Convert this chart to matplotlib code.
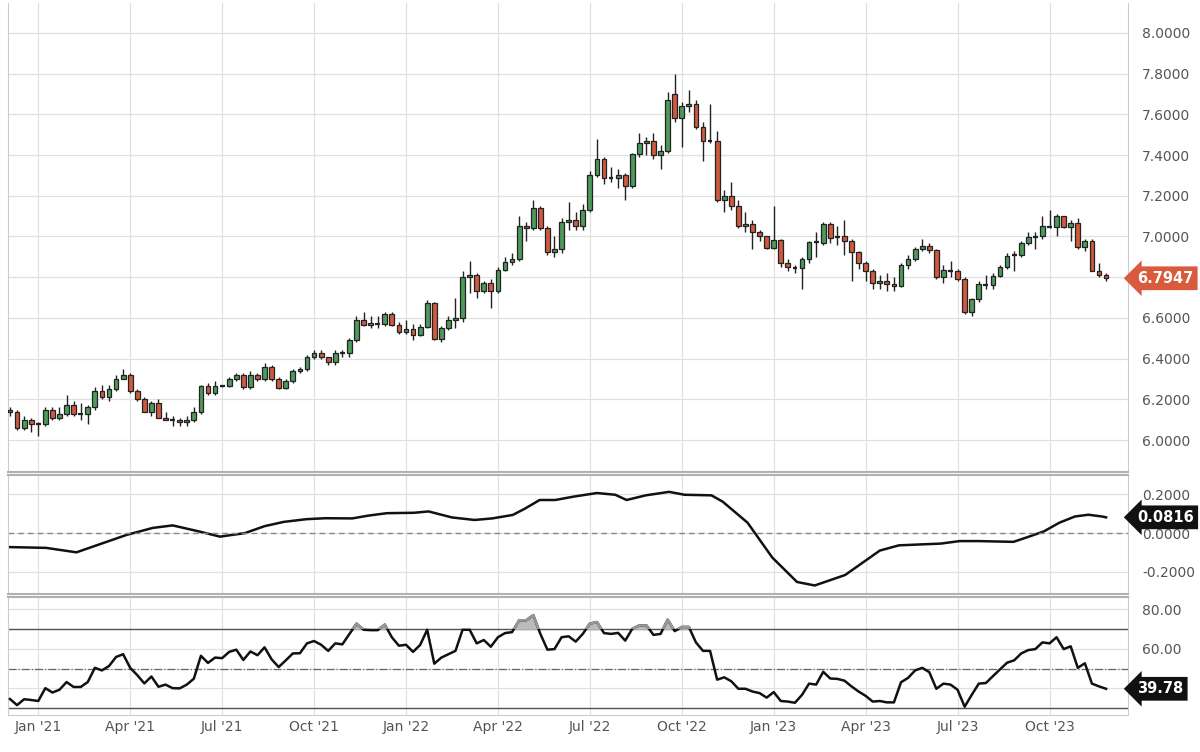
import matplotlib
matplotlib.use("Agg")
import matplotlib.pyplot as plt
import numpy as np
import datetime as dt
from matplotlib.patches import Rectangle

start = dt.date(2020, 12, 7)  # first weekly candle

closes = [6.14,6.06,6.10,6.08,6.08,6.15,6.11,6.13,6.17,6.13,6.13,6.16,6.24,6.21,6.25,6.30,6.32,6.24,6.20,6.14,
          6.18,6.11,6.10,6.10,6.09,6.10,6.14,6.265,6.23,6.265,6.265,6.30,6.32,6.26,6.32,6.30,6.36,6.30,6.255,6.29,
          6.34,6.35,6.41,6.43,6.41,6.385,6.43,6.43,6.49,6.59,6.565,6.575,6.57,6.62,6.565,6.53,6.545,6.515,6.555,6.675,
          6.495,6.55,6.59,6.60,6.80,6.81,6.73,6.77,6.73,6.835,6.875,6.89,7.05,7.04,7.14,7.04,6.925,6.94,7.07,7.08,
          7.05,7.13,7.30,7.38,7.285,7.285,7.30,7.25,7.405,7.46,7.47,7.40,7.42,7.67,7.58,7.64,7.65,7.54,7.47,7.47,
          7.18,7.20,7.15,7.05,7.06,7.02,7.00,6.945,6.985,6.87,6.85,6.845,6.89,6.975,6.97,7.06,6.995,7.00,6.98,6.925,
          6.87,6.83,6.77,6.78,6.765,6.755,6.86,6.89,6.94,6.955,6.935,6.80,6.835,6.83,6.79,6.63,6.695,6.765,6.76,6.805,
          6.85,6.905,6.91,6.97,6.995,7.00,7.05,7.045,7.10,7.045,7.065,6.95,6.98,6.83,6.81,6.7947]
opens = [6.15,6.14,6.06,6.10,6.08,6.08,6.15,6.11,6.13,6.17,6.13,6.13,6.16,6.24,6.21,6.25,6.30,6.32,6.24,6.20,
         6.14,6.18,6.11,6.10,6.10,6.09,6.10,6.14,6.265,6.23,6.265,6.265,6.30,6.32,6.26,6.32,6.30,6.36,6.30,6.255,
         6.29,6.34,6.35,6.41,6.43,6.41,6.385,6.43,6.43,6.49,6.59,6.565,6.575,6.57,6.62,6.565,6.53,6.545,6.515,6.555,
         6.675,6.495,6.55,6.59,6.60,6.80,6.81,6.73,6.77,6.73,6.835,6.875,6.89,7.05,7.04,7.14,7.04,6.925,6.94,7.07,
         7.08,7.05,7.13,7.30,7.38,7.285,7.285,7.30,7.25,7.405,7.46,7.47,7.40,7.42,7.70,7.58,7.64,7.65,7.54,7.47,
         7.47,7.18,7.20,7.15,7.05,7.06,7.02,7.00,6.945,6.985,6.87,6.85,6.845,6.89,6.975,6.97,7.06,6.995,7.00,6.98,
         6.925,6.87,6.83,6.77,6.78,6.765,6.755,6.86,6.89,6.94,6.955,6.935,6.80,6.835,6.83,6.79,6.63,6.695,6.765,6.76,
         6.805,6.85,6.905,6.91,6.97,6.995,7.00,7.05,7.045,7.10,7.045,7.065,6.95,6.98,6.83,6.81]
highs = [6.16,6.15,6.12,6.11,6.09,6.16,6.16,6.16,6.22,6.19,6.18,6.17,6.26,6.27,6.27,6.32,6.35,6.33,6.25,6.21,
         6.19,6.20,6.14,6.12,6.11,6.12,6.16,6.27,6.28,6.29,6.27,6.31,6.33,6.33,6.34,6.33,6.38,6.37,6.31,6.30,
         6.35,6.36,6.42,6.44,6.44,6.41,6.44,6.44,6.50,6.61,6.63,6.61,6.61,6.63,6.63,6.58,6.59,6.57,6.57,6.69,
         6.68,6.56,6.61,6.70,6.83,6.88,6.82,6.78,6.79,6.85,6.90,6.92,7.10,7.07,7.18,7.15,7.05,7.00,7.09,7.17,
         7.12,7.16,7.32,7.48,7.39,7.34,7.33,7.31,7.41,7.51,7.49,7.51,7.45,7.71,7.80,7.66,7.72,7.67,7.56,7.65,
         7.52,7.23,7.27,7.18,7.12,7.08,7.03,7.00,7.15,6.99,6.89,6.86,6.90,6.98,7.02,7.07,7.07,7.05,7.08,6.99,
         6.93,6.88,6.84,6.81,6.82,6.80,6.87,6.91,6.95,6.99,6.97,6.94,6.86,6.88,6.84,6.80,6.70,6.78,6.81,6.82,
         6.86,6.92,6.93,6.98,7.02,7.02,7.10,7.13,7.11,7.10,7.08,7.09,6.99,6.99,6.87,6.82]
lows = [6.12,6.05,6.05,6.04,6.02,6.07,6.10,6.10,6.12,6.12,6.10,6.08,6.15,6.20,6.19,6.24,6.30,6.23,6.19,6.14,
        6.12,6.11,6.10,6.07,6.07,6.07,6.09,6.13,6.22,6.22,6.26,6.26,6.29,6.25,6.25,6.29,6.29,6.29,6.25,6.25,
        6.28,6.33,6.34,6.40,6.40,6.37,6.37,6.41,6.41,6.48,6.56,6.55,6.55,6.56,6.56,6.52,6.52,6.49,6.51,6.55,
        6.49,6.48,6.54,6.55,6.58,6.72,6.70,6.72,6.65,6.72,6.83,6.86,6.88,6.98,7.03,7.03,6.91,6.90,6.92,7.03,
        7.03,7.03,7.12,7.29,7.26,7.27,7.24,7.18,7.24,7.39,7.40,7.38,7.33,7.41,7.56,7.44,7.61,7.53,7.37,7.46,
        7.17,7.12,7.13,7.04,7.02,6.94,6.98,6.94,6.94,6.85,6.83,6.82,6.74,6.87,6.90,6.96,6.97,6.96,6.91,6.78,
        6.84,6.78,6.74,6.74,6.73,6.73,6.75,6.84,6.88,6.93,6.92,6.79,6.77,6.80,6.78,6.62,6.61,6.68,6.74,6.74,
        6.80,6.84,6.83,6.90,6.96,6.94,6.99,7.04,7.00,7.04,6.98,6.94,6.93,6.83,6.80,6.78]

osc_week = [1,6.1,10.4,17.5,21.2,24,27.7,30.7,34.2,37,39.7,42.9,45.6,49.4,51.6,54.3,58.1,60.2,63.5,66.7,
            69.2,72.1,73.8,75.9,78.1,80.8,84,86.6,88.2,90.9,94.2,96.4,100.2,101.8,105.3,108.8,112.3,114.8,119.1,121.2,
            124,126.7,129.9,132.6,135.3,138,142.9,145.1,147.2,149.4,151.6,153.5,155.4,156]
osc_vals = [-0.072,-0.076,-0.099,-0.009,0.027,0.040,0.009,-0.018,0.0,0.036,0.058,0.072,0.077,0.076,0.090,0.103,0.105,0.112,0.081,0.068,
            0.076,0.094,0.126,0.171,0.171,0.189,0.207,0.198,0.171,0.195,0.213,0.198,0.195,0.162,0.054,-0.126,-0.252,-0.270,-0.216,-0.162,
            -0.090,-0.063,-0.058,-0.054,-0.041,-0.041,-0.045,-0.018,0.009,0.054,0.086,0.095,0.086,0.0816]

rsi_vals = [34.6,31.5,34.5,34.1,33.6,40.1,37.9,39.3,43.2,40.7,40.7,43.2,50.4,49.1,51.3,55.9,57.3,50.4,46.7,42.5,
            46.0,40.8,41.9,40.1,40.0,41.9,44.9,56.5,52.9,55.6,55.3,58.5,59.6,54.4,58.7,56.8,60.8,54.7,50.8,54.2,
            57.7,57.8,62.8,64.0,62.1,59.0,62.8,62.3,67.6,72.8,69.7,69.5,69.5,72.3,65.9,61.6,62.1,58.5,62.0,69.7,
            52.5,55.6,57.3,59.0,69.7,69.7,62.8,64.5,61.1,65.9,68.0,68.5,74.5,74.5,77.1,67.6,59.6,59.9,65.9,66.4,
            63.7,67.6,72.8,
            73.6,68.0,67.6,68.1,64.2,70.2,71.9,71.9,67.1,67.6,74.8,69.0,71.1,71.1,63.3,59.0,59.0,44.4,45.6,43.6,
            39.8,39.8,38.4,37.6,35.3,38.1,33.6,33.3,32.7,36.7,42.4,41.9,48.4,45.0,44.8,43.9,41.0,38.4,36.2,33.3,
            33.6,32.9,32.9,43.1,45.3,49.1,50.4,48.2,39.8,42.4,41.9,39.3,30.7,36.7,42.4,42.7,46.2,49.6,53.0,54.2,
            57.7,59.4,59.9,63.3,62.8,65.9,59.9,61.3,50.4,52.7,42.4,41.0,39.78]

tick_dates = [dt.date(2021,1,4), dt.date(2021,4,5), dt.date(2021,7,5), dt.date(2021,10,4),
              dt.date(2022,1,3), dt.date(2022,4,4), dt.date(2022,7,4), dt.date(2022,10,3),
              dt.date(2023,1,2), dt.date(2023,4,3), dt.date(2023,7,3), dt.date(2023,10,2)]
tick_labels = ["Jan '21","Apr '21","Jul '21","Oct '21","Jan '22","Apr '22","Jul '22","Oct '22",
               "Jan '23","Apr '23","Jul '23","Oct '23"]
price_ticks = [6.0, 6.2, 6.4, 6.6, 6.8, 7.0, 7.2, 7.4, 7.6, 7.8, 8.0]

weeks = np.arange(1, len(closes) + 1)
rsi_weeks = np.arange(1, len(rsi_vals) + 1)
tick_pos = [1 + (d - start).days / 7 for d in tick_dates]

GREEN = "#4e9a5b"; RED = "#cf5a3e"; GRID = "#e0e0e0"; TXT = "#555555"
fig = plt.figure(figsize=(12, 7.52), dpi=100)
L, W = 8/1200, 1120/1200
ax1 = fig.add_axes([L, 1-472/752, W, 469/752])
ax2 = fig.add_axes([L, 1-594/752, W, 119/752])
ax3 = fig.add_axes([L, 1-715/752, W, 118/752])
xlim = (0.72, 159.1)

for ax in (ax1, ax2, ax3):
    ax.set_xlim(*xlim)
    ax.set_xticks(tick_pos)
    ax.grid(True, color=GRID, lw=0.9)
    ax.set_axisbelow(True)
    ax.yaxis.tick_right()
    ax.tick_params(axis="y", length=0, labelsize=10, labelcolor=TXT, pad=10)
    ax.tick_params(axis="x", length=0)
    for s in ("left", "right"):
        ax.spines[s].set_color("#cccccc")
    ax.spines["top"].set_color("#b0b0b0"); ax.spines["top"].set_linewidth(1.5)
    ax.spines["bottom"].set_color("#b0b0b0"); ax.spines["bottom"].set_linewidth(1.5)
ax1.spines["top"].set_visible(False)
ax1.set_xticklabels([]); ax2.set_xticklabels([])
ax3.set_xticklabels(tick_labels, fontsize=10, color=TXT)
ax3.spines["bottom"].set_linewidth(0.8); ax3.spines["bottom"].set_color("#cccccc")

# candles
bw = 0.68
for x, o, h, l, c in zip(weeks, opens, highs, lows, closes):
    ax1.vlines(x, l, h, color="#222222", lw=1.0, zorder=2)
    col = GREEN if c >= o else RED
    bot, top = min(o, c), max(o, c)
    if top - bot < 0.006:
        ax1.hlines((o + c) / 2, x - bw/2, x + bw/2, color="#222222", lw=1.6, zorder=3)
    else:
        ax1.add_patch(Rectangle((x - bw/2, bot), bw, top - bot, facecolor=col,
                                edgecolor="#222222", lw=0.9, zorder=3))
ax1.set_ylim(5.843, 8.147)
ax1.set_yticks(price_ticks)
ax1.set_yticklabels(["" if abs(v - 6.8) < 1e-9 else f"{v:.4f}" for v in price_ticks])
ax1.text(1.008, (closes[-1]-5.843)/(8.147-5.843), f"{closes[-1]:.4f}", transform=ax1.transAxes,
         ha="left", va="center", fontsize=10.5, fontweight="bold", color="white",
         bbox=dict(boxstyle="larrow,pad=0.3", fc="#d95a3c", ec="none"))

# oscillator
ax2.plot(osc_week, osc_vals, color="#111111", lw=1.8)
ax2.axhline(0, color="#888888", lw=1, ls=(0, (4, 3)))
ax2.set_ylim(-0.314, 0.30)
ax2.set_yticks([-0.2, 0.0, 0.2])
ax2.yaxis.set_major_formatter(matplotlib.ticker.FormatStrFormatter("%.4f"))
ax2.text(1.008, (osc_vals[-1]+0.314)/0.614, f"{osc_vals[-1]:.4f}", transform=ax2.transAxes,
         ha="left", va="center", fontsize=10.5, fontweight="bold", color="white",
         bbox=dict(boxstyle="larrow,pad=0.3", fc="#111111", ec="none"))

# RSI
rsi = np.array(rsi_vals)
ax3.set_ylim(26.5, 86.3)
ax3.set_yticks([30, 40, 50, 60, 70, 80])
ax3.set_yticklabels(["", "", "", "60.00", "", "80.00"])
ax3.axhline(70, color="#555555", lw=1)
ax3.axhline(30, color="#555555", lw=1)
ax3.axhline(50, color="#666666", lw=0.9, ls="-.")
ax3.fill_between(rsi_weeks, rsi, 70, where=rsi > 70, interpolate=True, color="#bbbbbb", zorder=2)
ax3.plot(rsi_weeks, rsi, color="#111111", lw=1.8, zorder=3)
clip = Rectangle((xlim[0], 70), xlim[1]-xlim[0], 30, transform=ax3.transData)
ln, = ax3.plot(rsi_weeks, rsi, color="#999999", lw=1.8, zorder=4)
ln.set_clip_path(clip)
ax3.text(1.008, (rsi_vals[-1]-26.5)/(86.3-26.5), f"{rsi_vals[-1]:.2f}", transform=ax3.transAxes,
         ha="left", va="center", fontsize=10.5, fontweight="bold", color="white",
         bbox=dict(boxstyle="larrow,pad=0.3", fc="#111111", ec="none"))

fig.savefig("out.png", dpi=100)
